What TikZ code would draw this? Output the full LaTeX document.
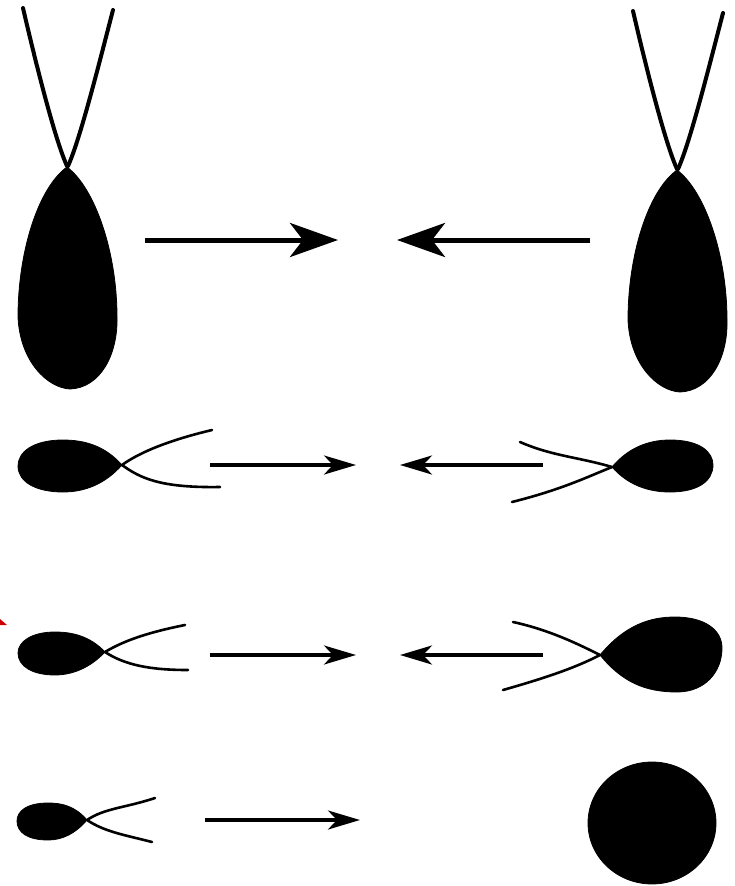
\documentclass[tikz,border=0pt]{standalone}
\usepackage{tikz}
\usetikzlibrary{arrows.meta}

\begin{document}
\begin{tikzpicture}[
    x=1pt, y=-1pt,
    cell/.style={fill=black,draw=black,line width=0.8pt},
    bigflag/.style={draw=black,line width=4pt,line cap=round},
    flag/.style={draw=black,line width=2.6pt,line cap=round},
    bigarrow/.style={line width=5pt,-{Stealth[length=48pt,width=34pt,inset=13pt]}},
    smallarrow/.style={line width=3.4pt,-{Stealth[length=32pt,width=19pt,inset=9pt]}},
]
\useasboundingbox (0,0) rectangle (735,886);

% Row 1: two large pear-shaped cells, flagella upwards
\foreach \dx/\dy in {0/0, 610/3} {
  \begin{scope}[shift={(\dx,\dy)}]
    \draw[bigflag] (67,166) .. controls (55,140) and (35,60) .. (23,8);
    \draw[bigflag] (68,166) .. controls (80,140) and (100,60) .. (113,10);
    \draw[cell] (67,167) .. controls (38,188) and (18,252) .. (18,317)
                .. controls (20,362) and (48,388) .. (70,389)
                .. controls (100,388) and (118,355) .. (117,317)
                .. controls (117,252) and (95,188) .. (67,167) -- cycle;
  \end{scope}
}
\coordinate (r1la) at (145,240);
\coordinate (r1lb) at (338,240);
\coordinate (r1ra) at (590,240);
\coordinate (r1rb) at (397,240);
\draw[bigarrow] (r1la) -- (r1lb);
\draw[bigarrow] (r1ra) -- (r1rb);

% Row 2: two equal small cells
\draw[flag] (122,465) .. controls (140,452) and (170,440) .. (212,430);
\draw[flag] (122,465) .. controls (140,478) and (160,488) .. (220,487);
\draw[cell] (122,465) .. controls (105,446) and (85,440) .. (63,440)
            .. controls (33,440) and (18,452) .. (18,466)
            .. controls (18,482) and (36,492) .. (63,492)
            .. controls (85,492) and (105,484) .. (122,465) -- cycle;
\draw[flag] (612,467) .. controls (578,457) and (552,456) .. (520,442);
\draw[flag] (612,467) .. controls (585,478) and (560,490) .. (512,502);
\draw[cell] (612,467) .. controls (628,448) and (648,440) .. (670,440)
            .. controls (700,440) and (713,452) .. (713,465)
            .. controls (713,481) and (698,492) .. (670,492)
            .. controls (648,492) and (628,485) .. (612,467) -- cycle;
\coordinate (r2la) at (210,465);
\coordinate (r2lb) at (356,465);
\coordinate (r2ra) at (543,465);
\coordinate (r2rb) at (400,465);
\draw[smallarrow] (r2la) -- (r2lb);
\draw[smallarrow] (r2ra) -- (r2rb);

% Row 3: small cell and larger cell
\fill[red!80!black] (0,619) -- (7,625) -- (0,625) -- cycle;
\draw[flag] (105,652) .. controls (125,640) and (150,632) .. (185,625);
\draw[flag] (105,652) .. controls (125,665) and (150,670) .. (188,670);
\draw[cell] (105,652) .. controls (90,636) and (72,632) .. (55,632)
            .. controls (31,632) and (18,642) .. (18,653)
            .. controls (18,666) and (32,675) .. (55,675)
            .. controls (72,675) and (90,668) .. (105,652) -- cycle;
\draw[flag] (600,655) .. controls (580,645) and (550,630) .. (513,622);
\draw[flag] (600,655) .. controls (575,668) and (545,678) .. (503,690);
\draw[cell] (600,655) .. controls (625,625) and (650,617) .. (675,617)
            .. controls (705,617) and (722,630) .. (722,648)
            .. controls (722,672) and (705,692) .. (677,692)
            .. controls (645,692) and (622,682) .. (600,655) -- cycle;
\coordinate (r3la) at (210,655);
\coordinate (r3lb) at (356,655);
\coordinate (r3ra) at (543,655);
\coordinate (r3rb) at (400,655);
\draw[smallarrow] (r3la) -- (r3lb);
\draw[smallarrow] (r3ra) -- (r3rb);

% Row 4: small flagellate and round egg
\draw[flag] (87,820) .. controls (105,808) and (125,808) .. (155,798);
\draw[flag] (87,820) .. controls (105,832) and (125,835) .. (152,842);
\draw[cell] (87,820) .. controls (75,806) and (62,803) .. (48,803)
            .. controls (27,803) and (17,811) .. (17,821)
            .. controls (17,832) and (27,840) .. (48,840)
            .. controls (62,840) and (75,834) .. (87,820) -- cycle;
\draw[cell] (652,823) ellipse [x radius=64, y radius=61];
\coordinate (r4a) at (205,820);
\coordinate (r4b) at (360,820);
\draw[smallarrow] (r4a) -- (r4b);
\end{tikzpicture}
\end{document}
